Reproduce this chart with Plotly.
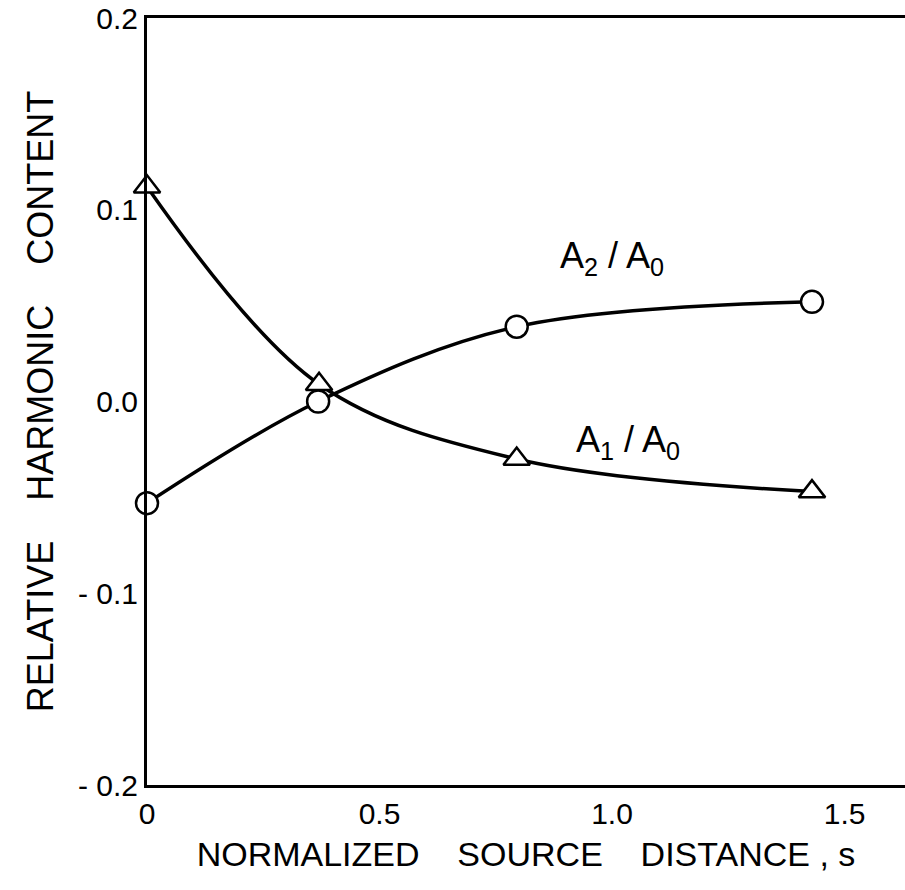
import plotly.graph_objects as go

# Normalized source distance s
s_a1 = [0.0, 0.37, 0.795, 1.43]
s_a2 = [0.0, 0.368, 0.795, 1.43]
# Relative harmonic content
a1_over_a0 = [0.112, 0.009, -0.030, -0.047]
a2_over_a0 = [-0.053, 0.0, 0.039, 0.052]

x_ticks = [0, 0.5, 1.0, 1.5]
x_tick_text = ["0", "0.5", "1.0", "1.5"]
y_ticks = [-0.2, -0.1, 0.0, 0.1, 0.2]
y_tick_text = ["- 0.2", "- 0.1", "0.0", "0.1", "0.2"]

FONT = "Liberation Sans"

fig = go.Figure()

fig.add_trace(go.Scatter(
    x=s_a2, y=a2_over_a0, mode="lines+markers",
    line=dict(color="black", width=3.5, shape="spline", smoothing=1.0),
    marker=dict(symbol="circle", size=22, color="white",
                line=dict(color="black", width=2.5)),
    cliponaxis=False, showlegend=False,
))
fig.add_trace(go.Scatter(
    x=s_a1, y=a1_over_a0, mode="lines+markers",
    line=dict(color="black", width=3.5, shape="spline", smoothing=1.0),
    marker=dict(symbol="triangle-up", size=23, color="white",
                line=dict(color="black", width=2.5)),
    cliponaxis=False, showlegend=False,
))

fig.add_annotation(x=1.0, y=0.075, text="A<sub>2</sub> / A<sub>0</sub>",
                   showarrow=False, font=dict(family=FONT, size=36, color="black"))
fig.add_annotation(x=1.035, y=-0.021, text="A<sub>1</sub> / A<sub>0</sub>",
                   showarrow=False, font=dict(family=FONT, size=36, color="black"))

fig.update_layout(
    width=905, height=890,
    margin=dict(l=147, r=0, t=18, b=105),
    paper_bgcolor="white", plot_bgcolor="white",
    font=dict(family=FONT, color="black"),
    xaxis=dict(
        range=[0, 1.63], tickvals=x_ticks, ticktext=x_tick_text,
        showgrid=False, zeroline=False, showline=True, mirror=True,
        linecolor="black", linewidth=3, ticks="",
        tickfont=dict(family=FONT, size=30),
        title=dict(text="NORMALIZED    SOURCE    DISTANCE , s",
                   font=dict(family=FONT, size=34), standoff=14),
    ),
    yaxis=dict(
        range=[-0.2, 0.2], tickvals=y_ticks, ticktext=y_tick_text,
        showgrid=False, zeroline=False, showline=True, mirror=False,
        linecolor="black", linewidth=3, ticks="",
        tickfont=dict(family=FONT, size=30),
        title=dict(text="RELATIVE    HARMONIC    CONTENT",
                   font=dict(family=FONT, size=36), standoff=14),
    ),
)

fig.write_html("out.html")
